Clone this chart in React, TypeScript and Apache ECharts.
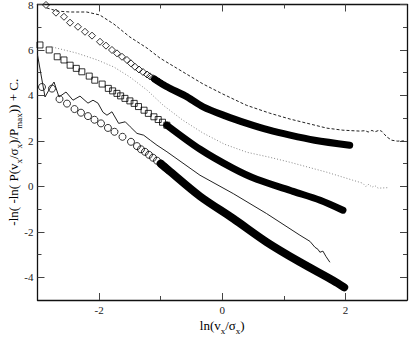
import React, { useEffect, useRef } from "react";
import * as echarts from "echarts";

// Axis ticks
const xMajorTicks = [-2, 0, 2];
const xMinorTicks = [-1, 1];
const yMajorTicks = [-4, -2, 0, 2, 4, 6, 8];
const yMinorTicks = [-3, -1, 1, 3, 5, 7];

// Dashed curve
const dashedX = [-2.85, -2.68, -2.47, -2.2, -1.99, -1.76, -1.5, -1.22, -1.01, -0.74, -0.31, 0.01, 0.39, 0.77, 1.1, 1.7, 1.96, 2.24, 2.32, 2.37, 2.43, 2.48, 2.55, 2.59, 2.67, 2.75, 2.84, 2.95];
const dashedY = [7.85, 7.71, 7.67, 7.67, 7.54, 7.14, 6.57, 6.08, 5.64, 5.2, 4.5, 4.06, 3.57, 3.22, 2.96, 2.56, 2.47, 2.43, 2.45, 2.39, 2.46, 2.4, 2.47, 2.42, 2.18, 2.03, 1.99, 2.0];

// Dotted curve
const dottedX = [-2.76, -2.36, -2.03, -1.76, -1.5, -1.22, -0.96, -0.64, -0.31, 0.04, 0.4, 0.77, 1.1, 1.7, 2.12, 2.28, 2.33, 2.38, 2.43, 2.48, 2.53, 2.68];
const dottedY = [6.13, 5.86, 5.56, 5.25, 4.81, 4.23, 3.57, 2.91, 2.34, 1.85, 1.5, 1.28, 1.06, 0.62, 0.27, 0.14, 0.0, 0.09, -0.04, 0.03, -0.08, -0.06];

// Solid curve
const solidX = [-3.0, -2.878, -2.797, -2.732, -2.651, -2.537, -2.424, -2.31, -2.18, -2.099, -2.018, -1.937, -1.872, -1.791, -1.682, -1.575, -1.494, -1.385, -1.276, -1.169, -1.06, -0.898, -0.362, 0.179, 0.721, 1.261, 1.424, 1.505, 1.554, 1.586, 1.635, 1.683, 1.748];
const solidY = [5.78, 3.93, 4.32, 4.59, 3.93, 4.15, 3.79, 3.97, 3.66, 3.79, 3.66, 3.26, 3.13, 3.28, 2.77, 2.84, 2.62, 2.33, 2.25, 2.03, 1.81, 1.52, 0.49, -0.32, -1.2, -2.15, -2.42, -2.68, -2.77, -2.9, -2.85, -3.08, -3.34];

// Diamonds (sparse markers + dense band)
const diamondX = [-2.862, -2.7, -2.57, -2.472, -2.343, -2.229, -2.115, -1.985, -1.888, -1.791, -1.709, -1.628, -1.547, -1.482, -1.417, -1.352, -1.287, -1.222, -1.174, -1.125, -1.076, -1.028, -0.979, -0.93, -0.881];
const diamondY = [7.98, 7.64, 7.46, 7.2, 7.02, 6.8, 6.63, 6.36, 6.19, 6.0, 5.85, 5.7, 5.56, 5.41, 5.26, 5.14, 5.03, 4.92, 4.84, 4.76, 4.68, 4.61, 4.52, 4.44, 4.36];
const diamondBandX = [-1.1, -0.9, -0.6, -0.31, 0.05, 0.4, 0.75, 1.1, 1.5, 2.07];
const diamondBandY = [4.72, 4.38, 3.98, 3.5, 3.1, 2.77, 2.48, 2.25, 2.03, 1.81];

// Squares
const squareX = [-2.96, -2.81, -2.68, -2.57, -2.47, -2.37, -2.28, -2.16, -2.07, -1.95, -1.85, -1.78, -1.71, -1.65, -1.58, -1.5, -1.43, -1.36, -1.27, -1.2, -1.11, -1.04, -0.97, -0.9];
const squareY = [6.22, 6.0, 5.7, 5.56, 5.33, 5.19, 5.04, 4.85, 4.67, 4.5, 4.31, 4.2, 4.09, 3.98, 3.87, 3.76, 3.65, 3.51, 3.35, 3.21, 3.06, 2.94, 2.82, 2.69];
const squareBandX = [-0.9, -0.36, 0.17, 0.56, 1.15, 1.59, 1.96];
const squareBandY = [2.69, 1.63, 0.8, 0.31, -0.22, -0.61, -1.05];

// Circles
const circleX = [-2.927, -2.765, -2.643, -2.521, -2.399, -2.294, -2.18, -2.075, -1.969, -1.856, -1.75, -1.62, -1.482, -1.385, -1.32, -1.255, -1.19, -1.125, -1.06, -0.995, -0.93, -0.881];
const circleY = [4.37, 4.3, 3.84, 3.64, 3.4, 3.24, 3.09, 2.93, 2.77, 2.57, 2.4, 2.18, 1.96, 1.77, 1.63, 1.52, 1.39, 1.26, 1.13, 1.0, 0.84, 0.73];
const circleBandX = [-1.0, -0.881, -0.36, 0.18, 0.72, 1.26, 1.8, 1.98];
const circleBandY = [1.0, 0.73, -0.44, -1.42, -2.45, -3.33, -4.14, -4.44];

const zip = (xs: number[], ys: number[]) => xs.map((x, i) => [x, ys[i]]);

const FONT = "'Liberation Serif', 'DejaVu Serif', serif";

const richName = {
  n: { fontFamily: FONT, fontSize: 13, lineHeight: 20, color: "#000" },
  s: { fontFamily: FONT, fontSize: 9, lineHeight: 9, verticalAlign: "bottom", color: "#000" },
};

function xAxisDef(position: string, ticks: number[], len: number, showLine: boolean, showLabel: boolean, extra: any = {}) {
  return {
    type: "value",
    position,
    min: -3,
    max: 3,
    axisLine: { show: showLine, onZero: false, lineStyle: { color: "#111", width: 1.3 } },
    axisTick: { show: true, inside: true, length: len, customValues: ticks, lineStyle: { color: "#444", width: 1 } },
    axisLabel: showLabel
      ? { show: true, customValues: ticks, margin: 4, fontFamily: FONT, fontSize: 11, color: "#222" }
      : { show: false },
    splitLine: { show: false },
    ...extra,
  };
}

function yAxisDef(position: string, ticks: number[], len: number, showLine: boolean, showLabel: boolean, extra: any = {}) {
  return {
    type: "value",
    position,
    min: -5,
    max: 8,
    axisLine: { show: showLine, onZero: false, lineStyle: { color: "#111", width: 1.3 } },
    axisTick: { show: true, inside: true, length: len, customValues: ticks, lineStyle: { color: "#444", width: 1 } },
    axisLabel: showLabel
      ? { show: true, customValues: ticks, margin: 4, fontFamily: FONT, fontSize: 11, color: "#222" }
      : { show: false },
    splitLine: { show: false },
    ...extra,
  };
}

const hollow = { color: "rgba(0,0,0,0)", borderColor: "#000", borderWidth: 1 };

export default function App() {
  const ref = useRef<HTMLDivElement>(null);
  useEffect(() => {
    if (!ref.current) return;
    const chart = echarts.init(ref.current, null, { renderer: "svg" });
    const option: any = {
      animation: false,
      backgroundColor: "#fff",
      grid: { left: 37.5, right: 2, top: 4.5, bottom: 38, containLabel: false, outerBoundsMode: "none" },
      xAxis: [
        xAxisDef("bottom", xMajorTicks, 7, true, true, {
          name: "{n|ln(v}{s|x}{n|/σ}{s|x}{n|)}",
          nameLocation: "middle",
          nameGap: 15,
          nameMoveOverlap: false,
          nameTextStyle: { fontFamily: FONT, fontSize: 13, color: "#000", rich: richName },
        }),
        xAxisDef("bottom", xMinorTicks, 4, false, false),
        xAxisDef("top", xMajorTicks, 7, true, false),
        xAxisDef("top", xMinorTicks, 4, false, false),
      ],
      yAxis: [
        yAxisDef("left", yMajorTicks, 7, true, true, {
          name: "{n|-ln( -ln( P(v}{s|x}{n|/σ}{s|x}{n|)/P}{s|max}{n|)) + C.}",
          nameLocation: "middle",
          nameGap: 14,
          nameRotate: 90,
          nameMoveOverlap: false,
          nameTextStyle: { fontFamily: FONT, fontSize: 13, color: "#000", rich: richName },
        }),
        yAxisDef("left", yMinorTicks, 4, false, false),
        yAxisDef("right", yMajorTicks, 7, true, false),
        yAxisDef("right", yMinorTicks, 4, false, false),
      ],
      series: [
        {
          type: "line",
          data: zip(dashedX, dashedY),
          symbol: "none",
          lineStyle: { color: "#222", width: 1, type: [3, 2] },
        },
        {
          type: "line",
          data: zip(dottedX, dottedY),
          symbol: "none",
          lineStyle: { color: "#888", width: 1, type: [1, 2] },
        },
        {
          type: "line",
          data: zip(solidX, solidY),
          symbol: "none",
          lineStyle: { color: "#222", width: 1 },
        },
        {
          type: "line",
          data: zip(diamondBandX, diamondBandY),
          symbol: "none",
          smooth: 0.3,
          lineStyle: { color: "#000", width: 7, cap: "round", join: "round" },
        },
        {
          type: "line",
          data: zip(squareBandX, squareBandY),
          symbol: "none",
          smooth: 0.3,
          lineStyle: { color: "#000", width: 7, cap: "round", join: "round" },
        },
        {
          type: "line",
          data: zip(circleBandX, circleBandY),
          symbol: "none",
          smooth: 0.3,
          lineStyle: { color: "#000", width: 8, cap: "round", join: "round" },
        },
        {
          type: "scatter",
          data: zip(diamondX, diamondY),
          symbol: "diamond",
          symbolSize: 7,
          itemStyle: hollow,
        },
        {
          type: "scatter",
          data: zip(squareX, squareY),
          symbol: "rect",
          symbolSize: 6,
          itemStyle: hollow,
        },
        {
          type: "scatter",
          data: zip(circleX, circleY),
          symbol: "circle",
          symbolSize: 7,
          itemStyle: hollow,
        },
      ],
    };
    chart.setOption(option);
    return () => chart.dispose();
  }, []);
  return (
    <div
      ref={ref}
      style={{ position: "absolute", left: 0, top: 0, width: 409, height: 338 }}
    />
  );
}
